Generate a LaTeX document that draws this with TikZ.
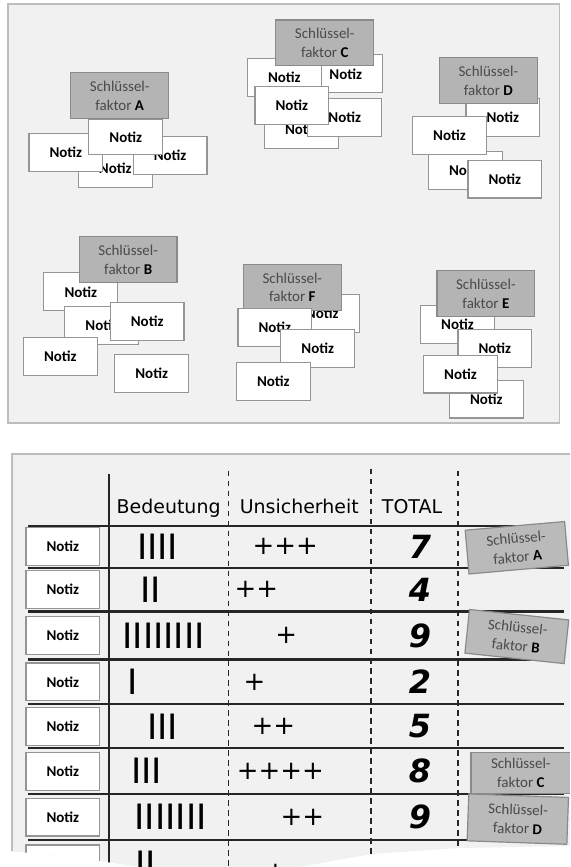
\documentclass[tikz,border=0pt]{standalone}
\usepackage{fontspec}
\setmainfont{Carlito}
\newfontfamily\handfont{DejaVu Sans}
\usepackage{xcolor}
\usepackage{tikz}

\definecolor{panelgray}{HTML}{F1F1F1}
\definecolor{panelline}{HTML}{BDBDBD}
\definecolor{keygray}{HTML}{B4B4B4}
\definecolor{keyline}{HTML}{8A8A8A}
\definecolor{noteline}{HTML}{959595}
\definecolor{keytext}{HTML}{4A4A4A}

\newcommand{\keylabel}[1]{Schlüssel-\\faktor \textbf{\textcolor{black}{#1}}}

\begin{document}
\begin{tikzpicture}[x=1pt, y=-1pt,
  notiz/.style={draw=noteline, line width=1.2pt, fill=white, minimum width=74pt, minimum height=38pt, inner sep=0pt, font=\fontsize{15}{18}\selectfont\bfseries},
  faktor/.style={draw=keyline, line width=1.2pt, fill=keygray, minimum width=98pt, minimum height=46pt, inner sep=0pt, align=center, text=keytext, font=\fontsize{15}{19}\selectfont},
  tkey/.style={faktor, minimum width=100pt, minimum height=44pt, fill=keygray!92},
  tally/.style={font=\handfont\fontsize{35}{35}\selectfont, inner sep=0pt},
  plus/.style={font=\handfont\fontsize{26}{26}\selectfont, inner sep=0pt},
  total/.style={font=\handfont\bfseries\itshape\fontsize{32}{32}\selectfont, inner sep=0pt},
  head/.style={font=\handfont\fontsize{19}{19}\selectfont, anchor=base, inner sep=0pt},
  rowline/.style={line width=2.2pt, black!85},
  colline/.style={line width=1.9pt, black!85, dash pattern=on 5.5pt off 4.5pt}]

\fill[white] (0,0) rectangle (570,867);

% upper panel
\draw[panelline, line width=1.2pt, fill=panelgray] (8,4) rectangle (561,424);

% group A
\node[notiz] (nA4) at (115.5,169) {Notiz};
\node[notiz] (nA1) at (66,152.5) {Notiz};
\node[notiz] (nA3) at (170.5,156) {Notiz};
\node[faktor] (fA) at (120,96) {\keylabel{A}};
\node[notiz, minimum height=35pt] (nA2) at (126,137.5) {Notiz};

% group C
\node[notiz] (nC2) at (346.5,74) {Notiz};
\node[notiz] (nC1) at (285,77.5) {Notiz};
\node[faktor] (fC) at (325.5,43) {\keylabel{C}};
\node[notiz] (nC5) at (302,129.5) {Notiz};
\node[notiz] (nC4) at (345.5,117.5) {Notiz};
\node[notiz] (nC3) at (292.5,105.5) {Notiz};

% group D
\node[notiz] (nD1) at (504,117.5) {Notiz};
\node[faktor] (fD) at (489.5,81) {\keylabel{D}};
\node[notiz] (nD3) at (466.5,171) {Notiz};
\node[notiz] (nD2) at (450.5,136) {Notiz};
\node[notiz] (nD4) at (506,179.5) {Notiz};

% group B
\node[notiz] (nB1) at (81,292.5) {Notiz};
\node[faktor] (fB) at (128.5,260) {\keylabel{B}};
\node[notiz] (nB2) at (102,326.5) {Notiz};
\node[notiz] (nB3) at (147.5,322.5) {Notiz};
\node[notiz] (nB4) at (60.5,357.5) {Notiz};
\node[notiz] (nB5) at (152,374.5) {Notiz};

% group F
\node[notiz] (nF1) at (323,314.5) {Notiz};
\node[faktor] (fF) at (293,288) {\keylabel{F}};
\node[notiz] (nF2) at (275.5,328.5) {Notiz};
\node[notiz] (nF3) at (318.5,349) {Notiz};
\node[notiz] (nF4) at (274,382.5) {Notiz};

% group E
\node[notiz] (nE1) at (458.5,325) {Notiz};
\node[faktor] (fE) at (487,294.5) {\keylabel{E}};
\node[notiz] (nE2) at (496,349.5) {Notiz};
\node[notiz] (nE4) at (487.5,400) {Notiz};
\node[notiz] (nE3) at (461.5,375) {Notiz};

% lower panel, torn at the bottom
\begin{scope}
\clip (10,453) -- (572,453) -- (572,848) -- (459,850) -- (372,856) -- (300,869) -- (140,869) -- (100,863) -- (40,856) -- (10,853) -- cycle;
\fill[panelgray] (12,455) rectangle (572,870);
\draw[panelline, line width=1.2pt] (12,870) -- (12,455) -- (572,455);

\draw[line width=2.4pt, black!85] (109,475) -- (109,870);
\draw[colline] (229,472) -- (229,870);
\draw[colline] (372,470) -- (372,870);
\draw[colline] (459,472) -- (459,870);

\draw[rowline] (28,527) -- (565,527);
\draw[rowline] (28,569) -- (565,569);
\draw[rowline] (28,613) -- (565,613);
\draw[rowline] (28,661) -- (565,661);
\draw[rowline] (28,706) -- (565,706);
\draw[rowline] (28,750) -- (565,750);
\draw[rowline] (28,796) -- (565,796);
\draw[rowline] (28,842) -- (565,842);

\node[head] (hB) at (169,515) {Bedeutung};
\node[head] (hU) at (300,515) {Unsicherheit};
\node[head] (hT) at (413,515) {TOTAL};

\node[notiz] (tn1) at (63,548) {Notiz};
\node[notiz] (tn2) at (63,591) {Notiz};
\node[notiz] (tn3) at (63,637) {Notiz};
\node[notiz] (tn4) at (63,683.5) {Notiz};
\node[notiz] (tn5) at (63,728) {Notiz};
\node[notiz] (tn6) at (63,773) {Notiz};
\node[notiz] (tn7) at (63,819) {Notiz};
\node[notiz] (tn8) at (63,866) {Notiz};

\node[tally] (tb1) at (158,548) {IIII};
\node[tally] (tb2) at (151,591) {II};
\node[tally] (tb3) at (164,637) {IIIIIIII};
\node[tally] (tb4) at (133,683.5) {I};
\node[tally] (tb5) at (163,728) {III};
\node[tally] (tb6) at (147,773) {III};
\node[tally] (tb7) at (171,819) {IIIIIII};
\node[tally] (tb8) at (146,866) {II};

\node[plus] (tp1) at (286,548) {+++};
\node[plus] (tp2) at (257,591) {++};
\node[plus] (tp3) at (287,637) {+};
\node[plus] (tp4) at (255,683.5) {+};
\node[plus] (tp5) at (274,728) {++};
\node[plus] (tp6) at (281,773) {++++};
\node[plus] (tp7) at (303,819) {++};
\node[plus] (tp8) at (276,874) {+};

\node[total] (tt1) at (421,548) {7};
\node[total] (tt2) at (421,591) {4};
\node[total] (tt3) at (421,637) {9};
\node[total] (tt4) at (421,683.5) {2};
\node[total] (tt5) at (421,728) {5};
\node[total] (tt6) at (421,773) {8};
\node[total] (tt7) at (421,819) {9};

\node[tkey, rotate=5] (kA) at (518,549) {\keylabel{A}};
\node[tkey, rotate=-6] (kB) at (518,638) {\keylabel{B}};
\node[tkey, minimum height=41pt] (kC) at (522,775) {\keylabel{C}};
\node[tkey, minimum height=47pt, rotate=-2] (kD) at (519,821) {\keylabel{D}};
\end{scope}

\useasboundingbox (0,0) rectangle (570,867);
\end{tikzpicture}
\end{document}
